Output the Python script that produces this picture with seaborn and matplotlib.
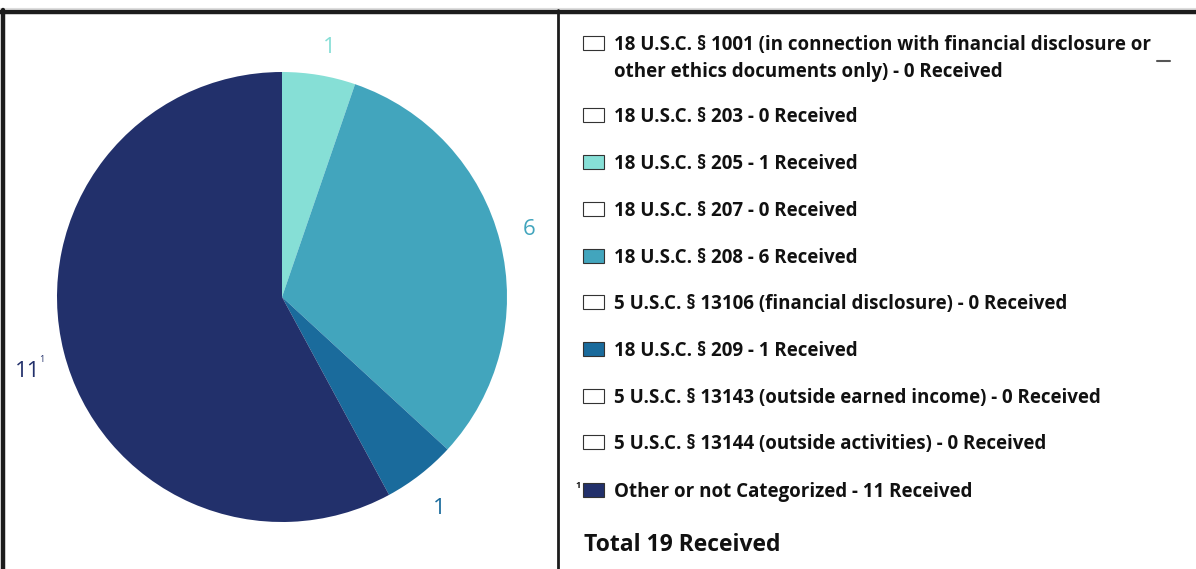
import numpy as np
import matplotlib
matplotlib.use("Agg")
import matplotlib.pyplot as plt
import seaborn as sns
from matplotlib.patches import Rectangle
from matplotlib.lines import Line2D

sns.set_theme(style="white")
plt.rcParams['font.family'] = ['Open Sans', 'DejaVu Sans']

# data
categories = [
    "18 U.S.C. § 1001 (in connection with financial disclosure or\nother ethics documents only)",
    "18 U.S.C. § 203",
    "18 U.S.C. § 205",
    "18 U.S.C. § 207",
    "18 U.S.C. § 208",
    "5 U.S.C. § 13106 (financial disclosure)",
    "18 U.S.C. § 209",
    "5 U.S.C. § 13143 (outside earned income)",
    "5 U.S.C. § 13144 (outside activities)",
    "Other or not Categorized",
]
received = [0, 0, 1, 0, 6, 0, 1, 0, 0, 11]
colors = ["#ffffff", "#ffffff", "#86dfd6", "#ffffff", "#42a5bd",
          "#ffffff", "#1a6b9c", "#ffffff", "#ffffff", "#22306b"]
footnote_marks = ["", "", "", "", "", "", "", "", "", "1"]

W, H = 1196, 569
fig = plt.figure(figsize=(W / 100, H / 100), dpi=100)
fig.patch.set_facecolor("white")

# pie area
cx, cy, r = 282, 297, 225
half = 232
ax = fig.add_axes([(cx - half) / W, (H - cy - half) / H, 2 * half / W, 2 * half / H])

vals = [v for v in received if v > 0]
cols = [c for v, c in zip(received, colors) if v > 0]
ax.pie(vals, colors=cols, startangle=90, counterclock=False, radius=1.0,
       wedgeprops=dict(linewidth=0))
# pie() resets limits, so set them afterwards
ax.set_xlim(-half / r, half / r)
ax.set_ylim(-half / r, half / r)
ax.set_aspect("equal")
ax.axis("off")

# value labels around the pie (offsets in pie radius units)
label_pos = [(0.21, 1.11), (1.10, 0.30), (0.70, -0.94), (-1.13, -0.33)]
for v, c, (lx, ly) in zip(vals, cols, label_pos):
    ax.text(lx, ly, str(v), color=c, fontsize=16, fontweight="normal",
            ha="center", va="center", clip_on=False)
ax.text(-1.067, -0.28, "1", color="#22306b", fontsize=6.5, ha="center",
        va="center", clip_on=False)

# frame lines
fig.add_artist(Line2D([0, 1], [1 - 8 / H, 1 - 8 / H], color="#dddddd", lw=0.8))
fig.add_artist(Line2D([0, 1], [1 - 12 / H, 1 - 12 / H], color="#1c1c1c", lw=3.2))
fig.add_artist(Line2D([3 / W, 3 / W], [0, 1 - 10 / H], color="#1c1c1c", lw=3.2))
fig.add_artist(Line2D([557.5 / W, 557.5 / W], [0, 1 - 10 / H], color="#1c1c1c", lw=2.0))
fig.add_artist(Line2D([1157 / W, 1170 / W], [1 - 61 / H, 1 - 61 / H], color="#555555", lw=1.5))

# legend
row_y = [43, 115, 162, 209, 256, 302, 349, 396, 442, 490]
for cat, v, c, mark, y in zip(categories, received, colors, footnote_marks, row_y):
    fig.add_artist(Rectangle((583 / W, 1 - (y + 7) / H), 21 / W, 14 / H,
                             facecolor=c, edgecolor="#333333", lw=0.8))
    fig.text(614 / W, 1 - (y - 8) / H, f"{cat} - {v} Received", fontsize=13.5,
             fontweight="bold", color="#111111", ha="left", va="top",
             linespacing=1.45)
    if mark:
        fig.text(578 / W, 1 - (y - 5) / H, mark, fontsize=6.5, fontweight="bold",
                 color="#111111", ha="center", va="center")

fig.text(584 / W, 1 - 545 / H, f"Total {sum(received)} Received", fontsize=16.5,
         fontweight="bold", color="#111111", ha="left", va="center")

fig.savefig("out.png", dpi=100, facecolor="white")
